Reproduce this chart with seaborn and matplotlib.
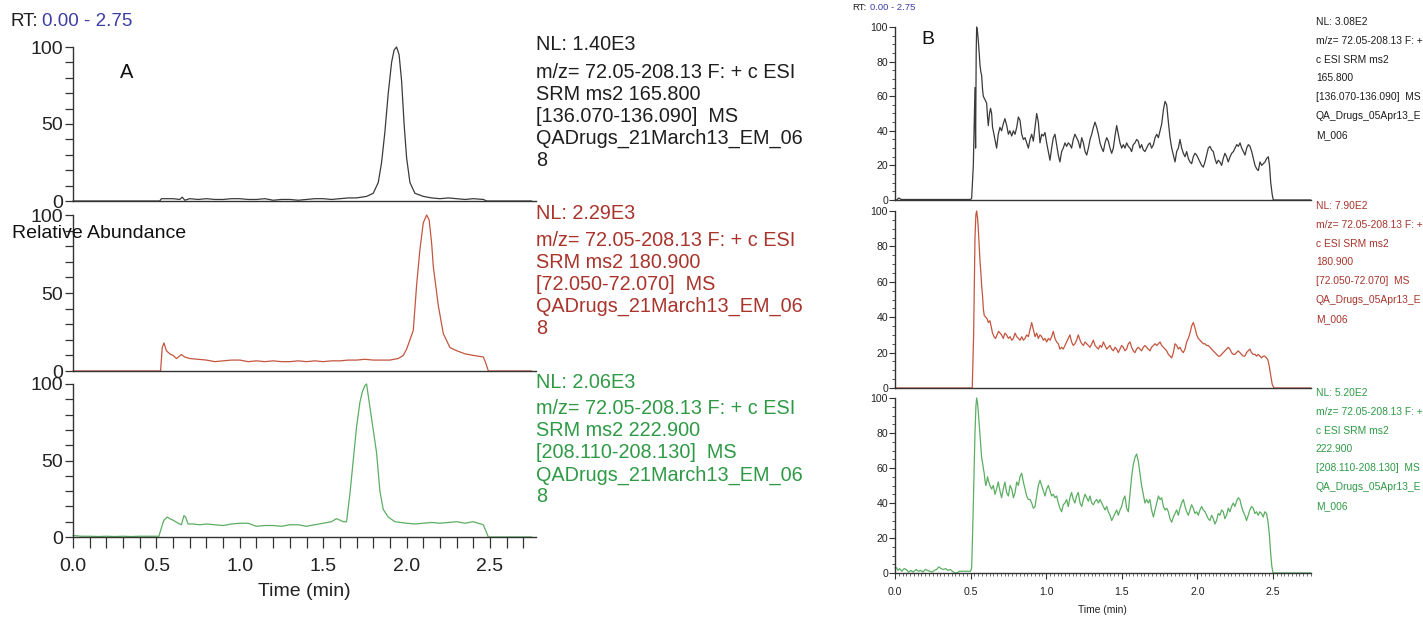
import matplotlib
matplotlib.use("Agg")
import matplotlib.pyplot as plt
import seaborn as sns
import pandas as pd
from matplotlib import font_manager
from matplotlib.ticker import MultipleLocator, FormatStrFormatter

# ---------------- data ----------------
a1_t = [0, 0.52, 0.53, 0.60, 0.64, 0.655, 0.67, 0.70, 0.75, 0.80, 0.85, 0.90, 0.95, 1.00, 1.05, 1.10,
        1.15, 1.20, 1.25, 1.30, 1.35, 1.40, 1.45, 1.50, 1.55, 1.60, 1.65, 1.70, 1.76, 1.80, 1.83, 1.85,
        1.87, 1.89, 1.91, 1.925, 1.94, 1.955, 1.97, 1.985, 2.00, 2.02, 2.05, 2.10, 2.15, 2.20, 2.25,
        2.30, 2.35, 2.40, 2.46, 2.48, 2.75]
a1_v = [0, 0, 1.5, 1.5, 1, 2.5, 0.5, 1.5, 1, 1.5, 1, 1, 1.5, 1.5, 1, 1,
        1.5, 0.5, 1, 1, 0.5, 1, 1.5, 1.5, 1, 1.5, 2, 2, 3, 5, 12, 25,
        45, 70, 90, 98, 100, 95, 78, 50, 28, 12, 5, 3, 2, 1.5, 2,
        1.5, 1, 1.5, 1, 0, 0]

a2_t = [0, 0.525, 0.535, 0.545, 0.56, 0.58, 0.60, 0.62, 0.65, 0.67, 0.70, 0.75, 0.80, 0.85, 0.90,
        0.95, 1.00, 1.05, 1.10, 1.15, 1.20, 1.25, 1.30, 1.35, 1.40, 1.45, 1.50, 1.55, 1.60, 1.65,
        1.70, 1.75, 1.80, 1.85, 1.90, 1.95, 1.98, 2.00, 2.02, 2.04, 2.06, 2.08, 2.10, 2.12, 2.135,
        2.15, 2.16, 2.19, 2.22, 2.26, 2.30, 2.35, 2.40, 2.46, 2.475, 2.49, 2.75]
a2_v = [0, 0, 15, 18, 13, 11, 10, 8, 10.5, 9, 8, 7.5, 7, 6, 6.5,
        7, 7, 6, 6.5, 6, 6.5, 6, 6, 6.5, 6, 6.5, 6, 6.5, 6.5, 7,
        7, 7.5, 7, 7, 7, 8, 10, 14, 20, 26, 55, 78, 95, 100, 97,
        82, 67, 42, 24, 15, 13, 11, 10, 9, 5, 0, 0]

a3_t = [0, 0.05, 0.1, 0.15, 0.2, 0.25, 0.3, 0.35, 0.4, 0.45, 0.515, 0.53, 0.545, 0.565, 0.58, 0.60,
        0.63, 0.65, 0.665, 0.675, 0.69, 0.72, 0.76, 0.80, 0.85, 0.90, 0.95, 1.00, 1.05, 1.10, 1.15,
        1.20, 1.25, 1.30, 1.35, 1.40, 1.45, 1.50, 1.55, 1.58, 1.62, 1.64, 1.66, 1.68, 1.70, 1.72,
        1.735, 1.75, 1.76, 1.78, 1.80, 1.82, 1.84, 1.86, 1.89, 1.93, 2.0, 2.05, 2.1, 2.15, 2.2, 2.25,
        2.3, 2.35, 2.4, 2.46, 2.475, 2.49, 2.75]
a3_v = [1, 0.5, 0.5, 0.3, 0.5, 0.3, 0.5, 0.3, 0.5, 0.5, 0.5, 6, 11, 13, 12, 11,
        9, 8, 14, 13, 8.5, 8.5, 8, 8.5, 8, 7.5, 8.5, 9, 9, 7, 7.5,
        7.5, 7, 8, 8, 7, 8, 9, 10, 12, 10, 10, 28, 50, 72, 88,
        95, 99, 100, 85, 70, 55, 30, 18, 13, 10, 9, 8.5, 9, 9.5, 9, 9.5,
        10, 9, 10, 8, 4, 0, 0]

b1_t = [0, 0.015, 0.02, 0.03, 0.04, 0.50, 0.507, 0.518, 0.524, 0.529, 0.533, 0.537, 0.540, 0.546,
        0.551, 0.557, 0.562, 0.568, 0.573, 0.579, 0.584, 0.595, 0.606, 0.612, 0.617, 0.625, 0.632,
        0.639, 0.645, 0.650, 0.661, 0.672, 0.683, 0.694, 0.705, 0.716, 0.727, 0.739, 0.750, 0.760,
        0.772, 0.783, 0.794, 0.805, 0.816, 0.827, 0.838, 0.849, 0.860, 0.871, 0.882, 0.893, 0.904,
        0.915, 0.926, 0.937, 0.948, 0.959, 0.970, 0.981, 0.992, 1.003, 1.014, 1.025, 1.036, 1.047,
        1.058, 1.069, 1.080, 1.091, 1.102, 1.113, 1.124, 1.135, 1.146, 1.157, 1.168, 1.179, 1.190,
        1.201, 1.212, 1.224, 1.235, 1.246, 1.257, 1.268, 1.279, 1.290, 1.301, 1.312, 1.323, 1.334,
        1.345, 1.356, 1.367, 1.378, 1.389, 1.400, 1.411, 1.422, 1.433, 1.444, 1.455, 1.466, 1.477,
        1.488, 1.499, 1.510, 1.521, 1.532, 1.543, 1.554, 1.565, 1.576, 1.587, 1.598, 1.609, 1.620,
        1.631, 1.642, 1.653, 1.664, 1.675, 1.686, 1.697, 1.709, 1.720, 1.731, 1.742, 1.753, 1.764,
        1.775, 1.786, 1.797, 1.808, 1.819, 1.830, 1.841, 1.852, 1.863, 1.874, 1.885, 1.896, 1.907,
        1.918, 1.929, 1.940, 1.951, 1.962, 1.973, 1.984, 1.995, 2.006, 2.017, 2.028, 2.039, 2.050,
        2.061, 2.072, 2.083, 2.094, 2.105, 2.116, 2.127, 2.138, 2.149, 2.160, 2.171, 2.182, 2.193,
        2.204, 2.216, 2.227, 2.238, 2.249, 2.260, 2.271, 2.282, 2.293, 2.304, 2.315, 2.326, 2.337,
        2.348, 2.359, 2.370, 2.381, 2.392, 2.403, 2.414, 2.425, 2.436, 2.447, 2.458, 2.469, 2.477,
        2.485, 2.495, 2.502, 2.75]
b1_v = [0, 0, 1, 1, 0.3, 0.3, 1, 20, 45, 65, 30, 85, 100, 97,
        92, 85, 78, 74, 72, 64, 60, 58, 56, 48, 43, 50, 53,
        50, 42, 40, 35, 30, 38, 42, 40, 44, 47, 43, 38, 40,
        37, 40, 38, 42, 48, 46, 38, 35, 36, 33, 30, 35, 38,
        34, 42, 50, 45, 33, 38, 37, 39, 33, 28, 23, 30, 36,
        38, 32, 26, 22, 28, 30, 33, 31, 33, 32, 30, 35, 38,
        36, 34, 30, 36, 33, 28, 26, 30, 35, 38, 42, 45, 42,
        38, 33, 30, 28, 33, 36, 34, 30, 27, 30, 37, 43, 38,
        33, 30, 32, 30, 33, 31, 30, 28, 32, 33, 35, 34, 30,
        32, 29, 28, 30, 32, 33, 30, 32, 36, 38, 36, 40, 44,
        52, 57, 55, 45, 36, 30, 26, 22, 28, 30, 35, 30, 27,
        25, 28, 24, 22, 21, 25, 27, 26, 24, 22, 20, 19, 22,
        26, 30, 31, 29, 28, 24, 21, 23, 22, 20, 24, 27, 25,
        22, 25, 27, 28, 30, 32, 31, 33, 30, 28, 26, 30, 32,
        31, 28, 24, 20, 18, 17, 22, 20, 21, 22, 24, 25, 20,
        10, 3, 0, 0]

b2_t = [0, 0.511, 0.520, 0.529, 0.535, 0.540, 0.546, 0.551, 0.557, 0.562, 0.568, 0.573, 0.579, 0.584,
        0.590, 0.600, 0.610, 0.617, 0.628, 0.635, 0.645, 0.655, 0.665, 0.675, 0.685, 0.695, 0.705,
        0.716, 0.727, 0.738, 0.750, 0.761, 0.772, 0.783, 0.794, 0.805, 0.816, 0.827, 0.838, 0.849,
        0.860, 0.871, 0.882, 0.893, 0.904, 0.915, 0.926, 0.937, 0.948, 0.959, 0.970, 0.981, 0.992,
        1.003, 1.014, 1.025, 1.036, 1.047, 1.058, 1.069, 1.080, 1.091, 1.102, 1.113, 1.124, 1.135,
        1.146, 1.157, 1.168, 1.179, 1.190, 1.201, 1.212, 1.224, 1.235, 1.246, 1.257, 1.268, 1.279,
        1.290, 1.301, 1.312, 1.323, 1.334, 1.345, 1.356, 1.367, 1.378, 1.389, 1.400, 1.411, 1.422,
        1.433, 1.444, 1.455, 1.466, 1.477, 1.488, 1.499, 1.510, 1.521, 1.532, 1.543, 1.554, 1.565,
        1.576, 1.587, 1.598, 1.609, 1.620, 1.631, 1.642, 1.653, 1.664, 1.675, 1.686, 1.697, 1.709,
        1.720, 1.731, 1.742, 1.753, 1.764, 1.775, 1.786, 1.797, 1.808, 1.819, 1.830, 1.841, 1.852,
        1.863, 1.874, 1.885, 1.896, 1.907, 1.918, 1.929, 1.940, 1.951, 1.962, 1.973, 1.984, 1.995,
        2.006, 2.017, 2.028, 2.039, 2.050, 2.061, 2.072, 2.083, 2.094, 2.105, 2.116, 2.127, 2.138,
        2.149, 2.160, 2.171, 2.182, 2.193, 2.204, 2.215, 2.226, 2.237, 2.248, 2.259, 2.270, 2.281,
        2.292, 2.303, 2.314, 2.325, 2.336, 2.347, 2.358, 2.369, 2.380, 2.391, 2.402, 2.413, 2.424,
        2.435, 2.446, 2.457, 2.466, 2.476, 2.485, 2.495, 2.507, 2.75]
b2_v = [0, 0, 30, 85, 98, 100, 96, 90, 80, 72, 65, 58, 52, 45,
        41, 40, 39, 37, 38, 35, 31, 29, 28, 30, 32, 31, 30,
        28, 31, 30, 28, 29, 27, 28, 31, 29, 28, 27, 29, 27,
        28, 30, 29, 33, 37, 33, 29, 31, 28, 30, 29, 27, 28,
        26, 28, 27, 29, 32, 28, 26, 25, 22, 23, 22, 24, 26,
        28, 30, 26, 24, 25, 27, 30, 27, 25, 24, 26, 25, 24,
        23, 25, 27, 24, 23, 22, 24, 23, 26, 24, 22, 23, 24,
        22, 21, 23, 22, 20, 22, 24, 23, 21, 22, 25, 26, 23,
        21, 20, 22, 23, 22, 21, 23, 24, 23, 22, 21, 23, 24,
        25, 24, 25, 26, 24, 23, 22, 21, 19, 18, 17, 20, 25,
        24, 22, 23, 21, 20, 22, 26, 28, 31, 35, 37, 34, 30,
        28, 27, 26, 25, 25, 24, 24, 23, 22, 21, 20, 19, 18,
        18, 19, 20, 21, 22, 23, 22, 20, 19, 19, 20, 21, 20,
        19, 18, 18, 20, 21, 22, 20, 19, 19, 18, 19, 18, 17,
        18, 18, 17, 16, 12, 7, 2, 0, 0]

b3_t = [0, 0.01, 0.02, 0.03, 0.045, 0.06, 0.075, 0.09, 0.105, 0.12, 0.14, 0.155, 0.17, 0.185, 0.20,
        0.215, 0.23, 0.245, 0.26, 0.275, 0.29, 0.305, 0.32, 0.335, 0.35, 0.365, 0.38, 0.395, 0.41,
        0.425, 0.45, 0.475, 0.50, 0.507, 0.514, 0.522, 0.529, 0.535, 0.540, 0.546, 0.551, 0.557,
        0.562, 0.568, 0.573, 0.579, 0.584, 0.590, 0.595, 0.601, 0.606, 0.612, 0.617, 0.628, 0.639,
        0.650, 0.661, 0.672, 0.683, 0.694, 0.705, 0.716, 0.727, 0.738, 0.750, 0.761, 0.772, 0.783,
        0.794, 0.805, 0.816, 0.827, 0.838, 0.849, 0.860, 0.871, 0.882, 0.893, 0.904, 0.915, 0.926,
        0.937, 0.948, 0.959, 0.970, 0.981, 0.992, 1.003, 1.014, 1.025, 1.036, 1.047, 1.058, 1.069,
        1.080, 1.091, 1.102, 1.113, 1.124, 1.135, 1.146, 1.157, 1.168, 1.179, 1.190, 1.201, 1.212,
        1.224, 1.235, 1.246, 1.257, 1.268, 1.279, 1.290, 1.301, 1.312, 1.323, 1.334, 1.345, 1.356,
        1.367, 1.378, 1.389, 1.400, 1.411, 1.422, 1.433, 1.444, 1.455, 1.466, 1.477, 1.488, 1.499,
        1.510, 1.521, 1.532, 1.543, 1.554, 1.565, 1.576, 1.587, 1.598, 1.609, 1.620, 1.631, 1.642,
        1.653, 1.664, 1.675, 1.686, 1.697, 1.709, 1.720, 1.731, 1.742, 1.753, 1.764, 1.775, 1.786,
        1.797, 1.808, 1.819, 1.830, 1.841, 1.852, 1.863, 1.874, 1.885, 1.896, 1.907, 1.918, 1.929,
        1.940, 1.951, 1.962, 1.973, 1.984, 1.995, 2.006, 2.017, 2.028, 2.039, 2.050, 2.061, 2.072,
        2.083, 2.094, 2.105, 2.116, 2.127, 2.138, 2.149, 2.160, 2.171, 2.182, 2.193, 2.204, 2.215,
        2.226, 2.237, 2.248, 2.259, 2.270, 2.281, 2.292, 2.303, 2.314, 2.325, 2.336, 2.347, 2.358,
        2.369, 2.380, 2.391, 2.402, 2.413, 2.424, 2.435, 2.446, 2.457, 2.466, 2.476, 2.484, 2.492,
        2.500, 2.75]
b3_v = [3, 3, 1.5, 2.5, 1, 2.5, 2, 0.5, 1.5, 0.5, 2, 1, 1.5, 0.5, 2,
        1.5, 1, 0.5, 1.5, 2, 3.5, 2.5, 2, 2.5, 1.5, 2, 1, 0, 0,
        1, 1, 1, 1, 3, 25, 55, 80, 95, 100, 97, 92, 85,
        80, 72, 66, 63, 60, 57, 53, 50, 52, 55, 53, 50, 48,
        50, 45, 48, 52, 47, 43, 48, 52, 46, 44, 50, 48, 43,
        46, 52, 50, 55, 57, 52, 48, 44, 42, 42, 40, 37, 38,
        44, 50, 53, 50, 47, 44, 48, 50, 47, 44, 45, 43, 44,
        40, 37, 35, 39, 40, 42, 38, 43, 46, 42, 40, 44, 46,
        40, 38, 42, 45, 43, 41, 44, 40, 39, 41, 42, 40, 42,
        40, 38, 36, 38, 35, 33, 30, 32, 34, 36, 33, 36, 38,
        42, 44, 37, 35, 45, 55, 62, 66, 68, 64, 57, 50, 45,
        40, 42, 40, 42, 36, 32, 36, 40, 44, 42, 43, 38, 36,
        37, 35, 31, 29, 32, 34, 36, 33, 37, 40, 42, 38, 35,
        33, 36, 39, 37, 34, 35, 33, 36, 38, 36, 35, 33, 31,
        30, 33, 31, 28, 30, 34, 33, 36, 35, 31, 33, 37, 35,
        38, 40, 38, 41, 43, 42, 38, 35, 33, 30, 33, 36, 38,
        37, 34, 35, 33, 35, 34, 32, 35, 34, 30, 22, 12, 4,
        0, 0]

a_labels = [
    ["NL: 1.40E3", "m/z= 72.05-208.13 F: + c ESI", "SRM ms2 165.800", "[136.070-136.090]  MS",
     "QADrugs_21March13_EM_06", "8"],
    ["NL: 2.29E3", "m/z= 72.05-208.13 F: + c ESI", "SRM ms2 180.900", "[72.050-72.070]  MS",
     "QADrugs_21March13_EM_06", "8"],
    ["NL: 2.06E3", "m/z= 72.05-208.13 F: + c ESI", "SRM ms2 222.900", "[208.110-208.130]  MS",
     "QADrugs_21March13_EM_06", "8"],
]
b_labels = [
    ["NL: 3.08E2", "m/z= 72.05-208.13 F: +", "c ESI SRM ms2", "165.800", "[136.070-136.090]  MS",
     "QA_Drugs_05Apr13_E", "M_006"],
    ["NL: 7.90E2", "m/z= 72.05-208.13 F: +", "c ESI SRM ms2", "180.900", "[72.050-72.070]  MS",
     "QA_Drugs_05Apr13_E", "M_006"],
    ["NL: 5.20E2", "m/z= 72.05-208.13 F: +", "c ESI SRM ms2", "222.900", "[208.110-208.130]  MS",
     "QA_Drugs_05Apr13_E", "M_006"],
]

# ---------------- style ----------------
sns.set_style("ticks")
names = {f.name for f in font_manager.fontManager.ttflist}
REG = 'Liberation Sans' if 'Liberation Sans' in names else 'DejaVu Sans'
NARROW = 'Liberation Sans Narrow' if 'Liberation Sans Narrow' in names else REG
nscale = 1.2 if NARROW != REG else 1.0
plt.rcParams['font.family'] = [REG, 'DejaVu Sans']

W, H = 1423, 618
fig = plt.figure(figsize=(W / 100, H / 100), dpi=100)

line_cols = ['#3a3a3a', '#c4553f', '#5cae63']
text_cols = ['#1e1e1e', '#a8342c', '#2f9a46']
axis_col = '#333333'


def make_ax(x0, ppu, xmax, y0, y100):
    return fig.add_axes([x0 / W, 1 - y0 / H, xmax * ppu / W, (y0 - y100) / H])


def draw(ax, t, v, color, xmax):
    df = pd.DataFrame({'Time (min)': t, 'Relative Abundance': v})
    sns.lineplot(data=df, x='Time (min)', y='Relative Abundance', ax=ax, color=color,
                 lw=0.9, estimator=None, sort=False)
    for ln in ax.lines:
        ln.set_clip_on(False)
    ax.set_xlim(0, xmax)
    ax.set_ylim(0, 100)
    ax.set_xlabel('')
    ax.set_ylabel('')
    ax.patch.set_alpha(0)
    for s in ['top', 'right']:
        ax.spines[s].set_visible(False)
    for s in ['left', 'bottom']:
        ax.spines[s].set_color(axis_col)
        ax.spines[s].set_linewidth(1.0)


# ---------------- panel A ----------------
a_rows = [(201, 47), (371, 215), (537, 384)]
a_data = [(a1_t, a1_v), (a2_t, a2_v), (a3_t, a3_v)]
A_X0, A_PPU, A_XMAX = 73, 166.8, 2.775
for i, ((y0, y100), (t, v)) in enumerate(zip(a_rows, a_data)):
    ax = make_ax(A_X0, A_PPU, A_XMAX, y0, y100)
    draw(ax, t, v, line_cols[i], A_XMAX)
    ax.yaxis.set_major_locator(MultipleLocator(50))
    ax.yaxis.set_minor_locator(MultipleLocator(10))
    ax.tick_params(axis='y', which='both', length=6, width=0.9, color=axis_col,
                   labelsize=14, labelcolor='#222222', pad=1)
    if i < 2:
        ax.tick_params(axis='x', which='both', bottom=False, labelbottom=False)
    else:
        ax.xaxis.set_major_locator(MultipleLocator(0.5))
        ax.xaxis.set_minor_locator(MultipleLocator(0.1))
        ax.xaxis.set_major_formatter(FormatStrFormatter('%.1f'))
        ax.tick_params(axis='x', which='both', length=8, width=0.9, color=axis_col,
                       labelsize=14, labelcolor='#222222', pad=7)
        ax.set_xlabel('Time (min)', fontsize=14, color='#222222', labelpad=6)
    ys = [y100 - 2, y100 + 25, y100 + 47, y100 + 69, y100 + 91, y100 + 113]
    for yy, s in zip(ys, a_labels[i]):
        fig.text(536 / W, 1 - yy / H, s, fontsize=14.3, color=text_cols[i], va='center', ha='left')

fig.text(10 / W, 1 - 22 / H, "RT:", fontsize=13.5, color='#1e1e1e', va='center', ha='left')
fig.text(42 / W, 1 - 22 / H, "0.00 - 2.75", fontsize=13.5, color='#3d3da6', va='center', ha='left')
fig.text(120 / W, 1 - 72 / H, "A", fontsize=14.5, color='#111111', va='center', ha='left')
fig.text(12 / W, 1 - 233 / H, "Relative Abundance", fontsize=14, color='#111111', va='center',
         ha='left')

# ---------------- panel B ----------------
b_rows = [(200, 27), (388, 211), (573, 398)]
b_data = [(b1_t, b1_v), (b2_t, b2_v), (b3_t, b3_v)]
B_X0, B_PPU, B_XMAX = 895, 151.2, 2.75
for i, ((y0, y100), (t, v)) in enumerate(zip(b_rows, b_data)):
    ax = make_ax(B_X0, B_PPU, B_XMAX, y0, y100)
    draw(ax, t, v, line_cols[i], B_XMAX)
    ax.yaxis.set_major_locator(MultipleLocator(20))
    ax.yaxis.set_minor_locator(MultipleLocator(5))
    ax.tick_params(axis='y', which='major', length=4, width=0.8, color=axis_col,
                   labelsize=7.6 * nscale, labelcolor='#222222', pad=1, labelfontfamily=NARROW)
    ax.tick_params(axis='y', which='minor', length=2.5, width=0.6, color=axis_col)
    if i < 2:
        ax.tick_params(axis='x', which='both', bottom=False, labelbottom=False)
    else:
        ax.xaxis.set_major_locator(MultipleLocator(0.5))
        ax.xaxis.set_minor_locator(MultipleLocator(0.025))
        ax.xaxis.set_major_formatter(FormatStrFormatter('%.1f'))
        ax.tick_params(axis='x', which='major', length=4, width=0.8, color=axis_col,
                       labelsize=7.6 * nscale, labelcolor='#222222', pad=6, labelfontfamily=NARROW)
        ax.tick_params(axis='x', which='minor', length=2.5, width=0.5, color=axis_col)
        ax.set_xlabel('Time (min)', fontsize=7.4 * nscale, color='#222222', labelpad=6,
                      family=NARROW)
    ys = [y100 - 5 + k * 18.8 for k in range(7)]
    for yy, s in zip(ys, b_labels[i]):
        fig.text(1316 / W, 1 - yy / H, s, fontsize=7.4 * nscale, color=text_cols[i], va='center',
                 ha='left', family=NARROW)

fig.text(852 / W, 1 - 7 / H, "RT:", fontsize=6.8 * nscale, color='#1e1e1e', va='center',
         ha='left', family=NARROW)
fig.text(870 / W, 1 - 7 / H, "0.00 - 2.75", fontsize=6.8 * nscale, color='#3d3da6', va='center',
         ha='left', family=NARROW)
fig.text(921 / W, 1 - 39 / H, "B", fontsize=14, color='#111111', va='center', ha='left')

fig.savefig("out.png", dpi=100, facecolor='white')
